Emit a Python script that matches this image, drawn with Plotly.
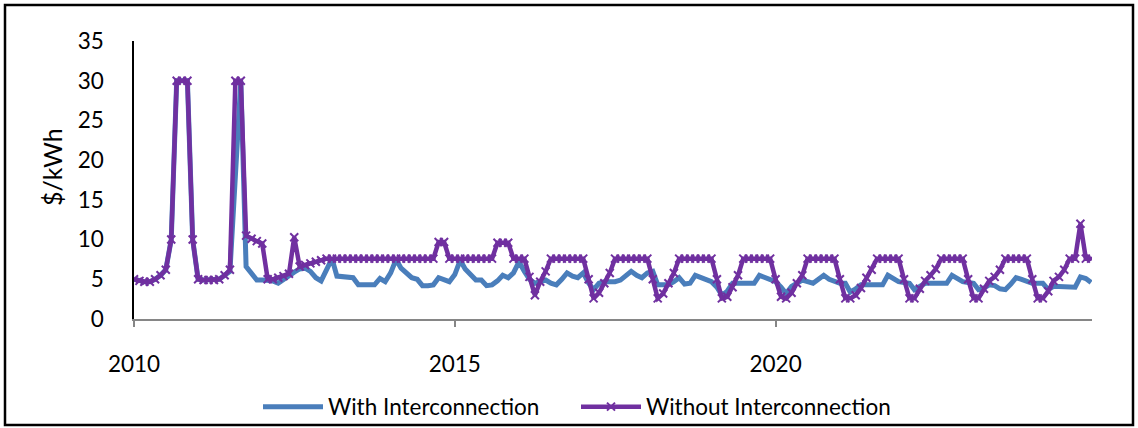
import pandas as pd
import plotly.graph_objects as go

# Monthly price series, Jan 2010 - Dec 2024 ($/kWh)
months = pd.date_range("2010-01-01", periods=180, freq="MS")

with_interconnection = [
    5.0, 4.8, 4.7, 4.7, 5.0, 5.5, 6.2, 10.0, 30.0, 30.0, 30.0, 10.0,   # 2010
    5.0, 4.9, 4.9, 4.9, 5.0, 5.5, 6.0, 18.0, 30.0, 6.6, 5.8, 4.9,      # 2011
    4.9, 4.8, 4.8, 4.5, 5.0, 5.5, 5.9, 6.3, 6.4, 6.0, 5.2, 4.8,        # 2012
    6.2, 7.6, 5.4, 5.3, 5.2, 5.2, 4.3, 4.3, 4.3, 4.3, 5.1, 4.7,        # 2013
    5.8, 7.5, 6.4, 5.8, 5.2, 5.0, 4.2, 4.2, 4.3, 5.2, 5.0, 4.7,        # 2014
    5.6, 7.4, 6.3, 5.5, 4.9, 4.9, 4.2, 4.3, 4.8, 5.5, 5.2, 5.8,        # 2015
    7.2, 6.0, 5.0, 4.5, 4.7, 4.9, 4.5, 4.3, 5.0, 5.8, 5.4, 5.2,        # 2016
    5.8, 4.5, 3.7, 4.5, 4.7, 4.7, 4.7, 4.9, 5.4, 6.0, 5.5, 5.2,        # 2017
    5.8, 6.0, 4.3, 4.3, 4.3, 4.7, 5.2, 4.4, 4.5, 5.5, 5.2, 4.9,        # 2018
    4.7, 4.0, 3.0, 3.5, 4.5, 4.5, 4.5, 4.5, 4.5, 5.5, 5.2, 4.9,        # 2019
    4.7, 4.0, 3.2, 4.1, 4.5, 4.9, 4.7, 4.5, 5.0, 5.5, 5.0, 4.7,        # 2020
    4.5, 4.5, 3.4, 3.8, 4.3, 4.3, 4.3, 4.3, 4.3, 5.5, 5.0, 4.7,        # 2021
    4.6, 4.5, 3.7, 4.2, 4.5, 4.5, 4.5, 4.5, 4.5, 5.5, 5.1, 4.7,        # 2022
    4.6, 4.5, 3.7, 3.9, 4.3, 4.2, 3.8, 3.7, 4.4, 5.2, 5.0, 4.7,        # 2023
    4.5, 4.5, 4.5, 3.7, 4.1, 4.1, 4.1, 4.1, 4.0, 5.3, 5.1, 4.6,        # 2024
]

without_interconnection = [
    5.0, 4.8, 4.7, 4.7, 5.0, 5.5, 6.2, 10.0, 30.0, 30.0, 30.0, 10.0,   # 2010
    5.0, 4.9, 4.9, 4.9, 5.0, 5.5, 6.2, 30.0, 30.0, 10.5, 10.1, 9.8,    # 2011
    9.5, 5.0, 5.0, 5.2, 5.4, 5.7, 10.3, 6.6, 6.8, 7.0, 7.2, 7.4,       # 2012
    7.6, 7.6, 7.6, 7.6, 7.6, 7.6, 7.6, 7.6, 7.6, 7.6, 7.6, 7.6,        # 2013
    7.6, 7.6, 7.6, 7.6, 7.6, 7.6, 7.6, 7.6, 7.6, 9.7, 9.7, 7.6,        # 2014
    7.6, 7.6, 7.6, 7.6, 7.6, 7.6, 7.6, 7.6, 9.6, 9.6, 9.6, 7.6,        # 2015
    7.6, 7.6, 5.3, 3.0, 4.7, 6.0, 7.6, 7.6, 7.6, 7.6, 7.6, 7.6,        # 2016
    7.6, 5.0, 2.6, 3.3, 4.5, 5.8, 7.6, 7.6, 7.6, 7.6, 7.6, 7.6,        # 2017
    7.6, 5.0, 2.6, 3.2, 4.5, 5.8, 7.6, 7.6, 7.6, 7.6, 7.6, 7.6,        # 2018
    7.6, 5.0, 2.6, 2.8, 4.0, 5.5, 7.6, 7.6, 7.6, 7.6, 7.6, 7.6,        # 2019
    5.0, 2.8, 2.6, 3.3, 4.5, 5.5, 7.6, 7.6, 7.6, 7.6, 7.6, 7.6,        # 2020
    5.0, 2.6, 2.6, 3.0, 3.9, 5.2, 6.2, 7.6, 7.6, 7.6, 7.6, 7.6,        # 2021
    5.0, 2.6, 2.6, 3.8, 4.8, 5.5, 6.3, 7.6, 7.6, 7.6, 7.6, 7.6,        # 2022
    5.0, 2.6, 2.6, 3.8, 4.8, 5.3, 6.2, 7.6, 7.6, 7.6, 7.6, 7.6,        # 2023
    5.0, 2.6, 2.6, 3.5, 4.8, 5.3, 6.2, 7.6, 7.6, 12.0, 7.6, 7.6,       # 2024
]

year_ticks = ["2010-01-01", "2015-01-01", "2020-01-01"]
year_labels = ["2010", "2015", "2020"]

BLUE = "#4A7EBB"
PURPLE = "#7030A0"
FONT = "Lato, 'Open Sans', sans-serif"

W, H = 1138, 428
L, R, T, B = 134, 46, 41, 109
pw, ph = W - L - R, H - T - B


def px_x(x):
    return (x - L) / pw


def px_y(y):
    return (H - B - y) / ph


def legend_at(x_px):
    # one legend box per series, placed in container pixels
    return dict(orientation="h",
                xref="container", x=x_px / W, xanchor="left",
                yref="container", y=1 - 407 / H, yanchor="middle",
                font=dict(size=22.5), itemwidth=60,
                bgcolor="rgba(0,0,0,0)")


fig = go.Figure()
fig.add_trace(go.Scatter(
    x=months, y=with_interconnection, name="With Interconnection",
    mode="lines", line=dict(color=BLUE, width=5), legend="legend",
))
fig.add_trace(go.Scatter(
    x=months, y=without_interconnection, name="Without Interconnection",
    mode="lines+markers", line=dict(color=PURPLE, width=4.5),
    marker=dict(symbol="x-thin", size=8, color=PURPLE,
                line=dict(width=2, color=PURPLE)),
    legend="legend2",
))

fig.update_layout(
    width=W, height=H,
    margin=dict(l=L, r=R, t=T, b=B, autoexpand=False),
    paper_bgcolor="white", plot_bgcolor="white",
    font=dict(family=FONT, size=22.5, color="black"),
    showlegend=True,
    legend=legend_at(258),
    legend2=legend_at(576),
    xaxis=dict(
        type="date", range=["2010-01-01", "2024-12-06"],
        tickmode="array", tickvals=year_ticks, ticktext=year_labels,
        ticks="outside", ticklen=6, tickcolor="#868686", tickwidth=1.5,
        showline=True, linecolor="#868686", linewidth=2,
        showgrid=False, zeroline=False, ticklabelstandoff=18,
    ),
    yaxis=dict(
        range=[0, 35], dtick=5, ticks="",
        showline=True, linecolor="black", linewidth=1.5,
        showgrid=False, zeroline=False, ticklabelstandoff=24,
    ),
    annotations=[dict(
        text="$/kWh", textangle=-90, showarrow=False,
        xref="paper", yref="paper", x=px_x(52), y=px_y(167),
        xanchor="center", yanchor="middle", font=dict(size=25),
    )],
    shapes=[dict(
        type="rect", xref="paper", yref="paper",
        x0=px_x(5), x1=px_x(1133), y0=px_y(425), y1=px_y(5),
        line=dict(color="black", width=2.5), fillcolor="rgba(0,0,0,0)",
    )],
)

fig.write_html("out.html")
